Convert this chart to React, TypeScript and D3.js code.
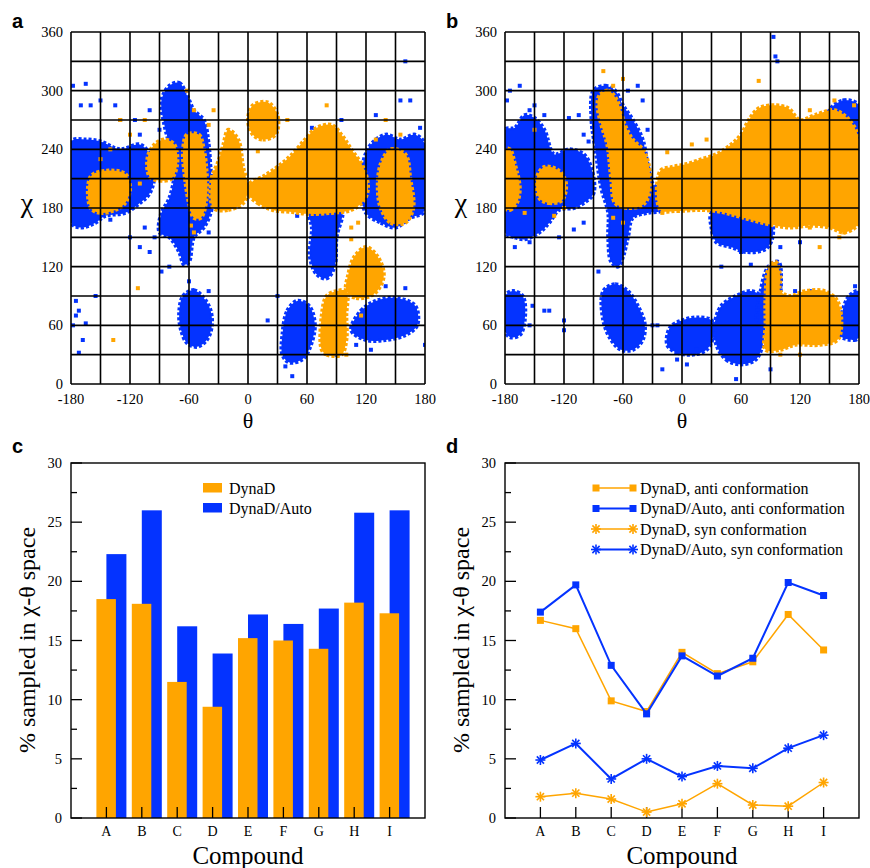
import * as d3 from "d3";

// ---- panel c / d data ----
const compounds = ["A", "B", "C", "D", "E", "F", "G", "H", "I"];
const barDynaD = [18.5, 18.1, 11.5, 9.4, 15.2, 15.0, 14.3, 18.2, 17.3];
const barDynaDAuto = [22.3, 26.0, 16.2, 13.9, 17.2, 16.4, 17.7, 25.8, 26.0];
const antiDynaD = [16.7, 16.0, 9.9, 9.0, 14.0, 12.2, 13.2, 17.2, 14.2];
const antiDynaDAuto = [17.4, 19.7, 12.9, 8.8, 13.7, 12.0, 13.5, 19.9, 18.8];
const synDynaD = [1.8, 2.1, 1.6, 0.5, 1.2, 2.9, 1.1, 1.0, 3.0];
const synDynaDAuto = [4.9, 6.3, 3.3, 5.0, 3.5, 4.4, 4.2, 5.9, 7.0];
const percentTicks = [0, 5, 10, 15, 20, 25, 30];
const thetaTicks = [-180, -120, -60, 0, 60, 120, 180];
const chiTicks = [0, 60, 120, 180, 240, 300, 360];

// ---- panel a: dense regions (outlines in theta/chi) and loose points ----
const blueRegionsA = [
  [[-180,165],[-170,160],[-155,165],[-145,172],[-125,175],[-110,185],[-100,195],[-95,215],[-100,235],[-110,245],[-130,240],[-150,248],[-165,250],[-180,248]],
  [[-80,305],[-70,308],[-62,295],[-55,280],[-45,270],[-40,245],[-38,220],[-35,195],[-38,175],[-45,160],[-55,150],[-60,125],[-65,122],[-70,135],[-80,150],[-90,155],[-88,175],[-80,190],[-75,215],[-80,245],[-85,265],[-88,290]],
  [[-66,90],[-55,96],[-45,88],[-38,75],[-37,58],[-42,45],[-52,38],[-62,42],[-68,55],[-70,72]],
  [[120,175],[135,165],[150,160],[165,170],[178,175],[180,185],[180,245],[170,255],[155,250],[140,255],[125,245],[118,230],[115,200]],
  [[62,178],[95,178],[90,150],[88,120],[80,108],[70,112],[63,130],[65,160]],
  [[35,50],[40,75],[50,85],[62,80],[68,60],[62,35],[55,25],[42,22],[35,30]],
  [[105,55],[115,75],[130,85],[150,88],[170,80],[172,60],[160,50],[140,45],[120,45]],
];
const orangeRegionsA = [
  [[-160,180],[-150,175],[-135,178],[-125,185],[-120,200],[-125,215],[-145,218],[-160,212]],
  [[-100,212],[-90,208],[-78,210],[-72,225],[-75,245],[-85,250],[-95,245],[-102,232]],
  [[-62,255],[-50,255],[-45,240],[-42,215],[-42,190],[-48,170],[-55,170],[-60,185],[-64,210],[-66,240]],
  [[-35,180],[-20,178],[-5,185],[0,200],[-5,222],[-10,250],[-20,260],[-25,245],[-30,228],[-37,210]],
  [[5,255],[15,250],[28,255],[30,275],[20,288],[5,285],[0,270]],
  [[0,195],[10,185],[25,178],[45,176],[60,174],[85,175],[105,178],[118,188],[122,200],[118,220],[105,240],[95,255],[85,265],[70,262],[58,250],[45,235],[30,222],[15,212],[2,205]],
  [[135,180],[145,165],[160,165],[168,180],[165,210],[160,235],[145,240],[135,225],[132,200]],
  [[100,95],[110,88],[128,92],[138,110],[132,130],[120,140],[108,130],[102,112]],
  [[75,35],[80,30],[95,30],[100,45],[100,70],[100,95],[90,95],[80,90],[75,70]],
];
const blueDotsA = [[-178,305],[-165,307],[-170,285],[-160,285],[-150,290],[-135,285],[-130,270],[-115,270],[-100,280],[-110,255],[-90,260],[-120,150],[-95,150],[-100,135],[-110,140],[-80,120],[-40,230],[-40,155],[-175,85],[-172,75],[-175,70],[-165,62],[-168,45],[-155,90],[-172,32],[-178,60],[-40,95],[-60,105],[20,65],[45,8],[90,30],[110,40],[125,35],[160,98],[180,40],[160,330],[155,290],[165,290],[130,275],[95,270],[65,262],[-20,185],[50,172],[30,180],[-105,160],[-88,115],[-120,180],[-140,168],[175,262],[112,95],[140,100],[30,90],[38,18]];
const orangeDotsA = [[-112,98],[-137,45],[-140,240],[-130,270],[-120,255],[-105,270],[-55,155],[-58,162],[-62,300],[-55,280],[-40,265],[-15,240],[80,285],[105,160],[105,148],[112,165],[-35,280],[40,270],[120,90],[115,70],[140,270],[155,255],[160,175],[-20,185],[-28,180],[100,30],[-150,230],[-110,205],[10,238],[130,250]];

// ---- panel b ----
const blueRegionsB = [
  [[-180,155],[-170,150],[-160,148],[-145,155],[-135,165],[-125,178],[-110,180],[-100,185],[-90,195],[-92,220],[-100,235],[-115,240],[-130,235],[-140,260],[-150,272],[-160,275],[-170,262],[-180,260]],
  [[-90,300],[-78,305],[-68,300],[-60,285],[-50,270],[-40,250],[-35,225],[-30,205],[-20,195],[-20,178],[-35,175],[-50,170],[-55,150],[-60,130],[-65,120],[-72,125],[-75,150],[-75,175],[-82,200],[-88,240],[-92,270]],
  [[30,175],[45,180],[75,175],[90,170],[92,150],[85,138],[65,135],[50,140],[35,145],[30,160]],
  [[-180,55],[-175,48],[-165,50],[-160,65],[-162,90],[-172,95],[-180,90]],
  [[-80,95],[-68,102],[-55,95],[-45,80],[-38,62],[-40,45],[-50,35],[-62,35],[-72,45],[-80,65]],
  [[-15,40],[-5,32],[10,30],[25,35],[32,50],[30,65],[15,68],[0,65],[-12,58]],
  [[35,40],[45,25],[60,20],[75,25],[82,40],[85,70],[80,90],[70,95],[55,90],[40,80],[33,60]],
  [[78,60],[95,60],[100,90],[98,125],[88,120],[80,95]],
  [[160,50],[175,45],[180,48],[180,95],[170,90],[162,70]],
  [[150,235],[165,230],[180,235],[180,285],[165,290],[150,280]],
];
const orangeRegionsB = [
  [[-180,180],[-175,178],[-168,185],[-165,200],[-170,225],[-175,240],[-180,240]],
  [[-145,190],[-135,185],[-122,188],[-118,205],[-125,218],[-140,222],[-148,210]],
  [[-84,295],[-75,300],[-66,290],[-58,265],[-50,250],[-40,240],[-34,225],[-33,195],[-40,183],[-55,180],[-68,185],[-72,210],[-76,245],[-82,265],[-86,285]],
  [[-22,178],[-5,177],[20,178],[40,176],[55,172],[70,168],[90,163],[110,160],[130,162],[150,160],[165,155],[180,165],[180,250],[170,270],[155,280],[135,275],[120,270],[108,282],[95,285],[78,282],[68,270],[60,255],[50,245],[35,235],[20,230],[5,225],[-10,222],[-22,218]],
  [[85,35],[100,35],[115,40],[140,40],[158,45],[162,60],[158,85],[145,95],[125,95],[110,90],[100,95],[100,110],[95,125],[88,118],[85,90],[85,60]],
];
const blueDotsB = [[-175,300],[-165,305],[-178,290],[-155,280],[-150,285],[-140,275],[-115,272],[-105,275],[-100,255],[-95,248],[-135,240],[-100,165],[-110,158],[-125,150],[-160,150],[-155,145],[-45,305],[-55,300],[-40,290],[-50,240],[-35,260],[-30,192],[-25,190],[-120,65],[-120,55],[-140,75],[-135,75],[-152,80],[-155,60],[-30,60],[-25,60],[-5,25],[5,20],[15,35],[20,65],[55,5],[90,15],[60,135],[100,140],[100,100],[115,95],[130,95],[110,260],[145,270],[95,335],[97,330],[93,355],[160,245],[165,290],[120,145],[50,210],[20,215],[-170,140],[-85,115],[40,120],[70,122],[176,100],[-20,15]];
const orangeDotsB = [[-150,260],[-130,172],[-120,180],[-15,237],[-80,320],[-60,312],[-70,305],[10,245],[25,250],[78,310],[-40,190],[-20,175],[140,140],[160,150],[165,155],[130,160],[150,165],[100,30],[120,30],[-70,170],[-60,165],[130,280],[-160,175],[175,285],[155,290]];

const ORANGE = "#ffa500";
const BLUE = "#0433ff";
const serif = "'Liberation Serif', 'Times New Roman', serif";
const sans = "'Liberation Sans', Arial, sans-serif";

const Scatter = ({ left, letter, blueRegions, orangeRegions, blueDots, orangeDots }) => {
  const x = d3.scaleLinear().domain([-180, 180]).range([left, left + 354]);
  const y = d3.scaleLinear().domain([0, 360]).range([384, 32]);
  const line = d3.line().x(d => x(d[0])).y(d => y(d[1])).curve(d3.curveCatmullRomClosed.alpha(0.5));
  const grid = d3.range(-180, 181, 30);
  const gridY = d3.range(0, 361, 30);
  const region = (pts, col, i) => (
    <path key={i} d={line(pts)} fill={col} stroke={col} strokeWidth={4} strokeDasharray="3 2" />
  );
  const dot = (p, col, i) => (
    <rect key={i} x={x(p[0]) - 2} y={y(p[1]) - 2} width={4} height={4} fill={col} />
  );
  return (
    <g>
      <clipPath id={"clip" + letter}>
        <rect x={left} y={32} width={354} height={352} />
      </clipPath>
      <g clipPath={`url(#clip${letter})`}>
        {blueRegions.map((r, i) => region(r, BLUE, i))}
        {blueDots.map((p, i) => dot(p, BLUE, i))}
        {orangeRegions.map((r, i) => region(r, ORANGE, i))}
        {orangeDots.map((p, i) => dot(p, ORANGE, i))}
      </g>
      {grid.map(v => (
        <line key={"v" + v} x1={x(v)} x2={x(v)} y1={y(0)} y2={y(360)} stroke="#000" strokeWidth={1.6} />
      ))}
      {gridY.map(v => (
        <line key={"h" + v} x1={x(-180)} x2={x(180)} y1={y(v)} y2={y(v)} stroke="#000" strokeWidth={1.6} />
      ))}
      {thetaTicks.map(v => (
        <text key={"xt" + v} x={x(v)} y={404} textAnchor="middle" fontFamily={serif} fontSize={14.5}>{v}</text>
      ))}
      {chiTicks.map(v => (
        <text key={"yt" + v} x={left - 8} y={y(v) + 5} textAnchor="end" fontFamily={serif} fontSize={14.5}>{v}</text>
      ))}
      <text x={x(0)} y={428} textAnchor="middle" fontFamily={serif} fontSize={22}>θ</text>
      <text x={left - 44} y={212} textAnchor="middle" fontFamily={serif} fontSize={28}>χ</text>
      <text x={left - 59} y={28} fontFamily={sans} fontWeight="bold" fontSize={20}>{letter}</text>
    </g>
  );
};

const PercentFrame = ({ left, letter, x, y }) => (
  <g>
    <rect x={left} y={y(30)} width={354} height={y(0) - y(30)} fill="none" stroke="#000" strokeWidth={1.4} />
    {d3.range(0, 30.1, 2.5).map(v => (
      <line key={"yt" + v} x1={left} x2={left + (v % 5 === 0 ? 11 : 6)} y1={y(v)} y2={y(v)} stroke="#000" strokeWidth={1.3} />
    ))}
    {percentTicks.map(v => (
      <text key={"yl" + v} x={left - 9} y={y(v) + 5} textAnchor="end" fontFamily={serif} fontSize={14.5}>{v}</text>
    ))}
    {compounds.map((c, i) => (
      <g key={c}>
        <line x1={x(i + 1)} x2={x(i + 1)} y1={y(0)} y2={y(0) - 11} stroke="#000" strokeWidth={1.3} />
        <text x={x(i + 1)} y={y(0) + 18} textAnchor="middle" fontFamily={serif} fontSize={14}>{c}</text>
      </g>
    ))}
    <text x={left + 177} y={864} textAnchor="middle" fontFamily={serif} fontSize={25}>Compound</text>
    <text transform={`translate(${left - 36},640) rotate(-90)`} textAnchor="middle" fontFamily={serif} fontSize={24}>% sampled in χ-θ space</text>
    <text x={left - 59} y={453} fontFamily={sans} fontWeight="bold" fontSize={20}>{letter}</text>
  </g>
);

const Star = ({ cx, cy, col }) => (
  <g stroke={col} strokeWidth={1.6}>
    <line x1={cx - 5} x2={cx + 5} y1={cy} y2={cy} />
    <line x1={cx} x2={cx} y1={cy - 5} y2={cy + 5} />
    <line x1={cx - 3.6} x2={cx + 3.6} y1={cy - 3.6} y2={cy + 3.6} />
    <line x1={cx - 3.6} x2={cx + 3.6} y1={cy + 3.6} y2={cy - 3.6} />
  </g>
);

const BarPanel = () => {
  const left = 71;
  const x = d3.scaleLinear().domain([0, 10]).range([left, left + 354]);
  const y = d3.scaleLinear().domain([0, 30]).range([818, 463]);
  return (
    <g>
      {barDynaDAuto.map((v, i) => (
        <rect key={"b" + i} x={x(i + 1)} y={y(v)} width={20} height={y(0) - y(v)} fill={BLUE} />
      ))}
      {barDynaD.map((v, i) => (
        <rect key={"o" + i} x={x(i + 1) - 10} y={y(v)} width={19.5} height={y(0) - y(v)} fill={ORANGE} />
      ))}
      <PercentFrame left={left} letter="c" x={x} y={y} />
      <rect x={203} y={483} width={19} height={9.5} fill={ORANGE} />
      <text x={229} y={494} fontFamily={serif} fontSize={16}>DynaD</text>
      <rect x={203} y={503} width={19} height={9.5} fill={BLUE} />
      <text x={229} y={514} fontFamily={serif} fontSize={16}>DynaD/Auto</text>
    </g>
  );
};

const LinePanel = () => {
  const left = 505;
  const x = d3.scaleLinear().domain([0, 10]).range([left, left + 354]);
  const y = d3.scaleLinear().domain([0, 30]).range([818, 463]);
  const line = d3.line().x((d, i) => x(i + 1)).y(d => y(d));
  const series = [
    { vals: antiDynaD, col: ORANGE, w: 1.5, mark: "sq", label: "DynaD, anti conformation" },
    { vals: antiDynaDAuto, col: BLUE, w: 2, mark: "sq", label: "DynaD/Auto, anti conformation" },
    { vals: synDynaD, col: ORANGE, w: 1.5, mark: "star", label: "DynaD, syn conformation" },
    { vals: synDynaDAuto, col: BLUE, w: 2, mark: "star", label: "DynaD/Auto, syn conformation" },
  ];
  const marker = (s, cx, cy, k) =>
    s.mark === "sq" ? (
      <rect key={k} x={cx - 3.5} y={cy - 3.5} width={7} height={7} fill={s.col} />
    ) : (
      <Star key={k} cx={cx} cy={cy} col={s.col} />
    );
  return (
    <g>
      <PercentFrame left={left} letter="d" x={x} y={y} />
      {series.map((s, si) => (
        <g key={si}>
          <path d={line(s.vals)} fill="none" stroke={s.col} strokeWidth={s.w} />
          {s.vals.map((v, i) => marker(s, x(i + 1), y(v), i))}
        </g>
      ))}
      {series.map((s, si) => {
        const ly = 488 + si * 20.5;
        return (
          <g key={"lg" + si}>
            <line x1={596} x2={633} y1={ly} y2={ly} stroke={s.col} strokeWidth={s.w} />
            {marker(s, 596, ly, "m1")}
            {marker(s, 633, ly, "m2")}
            <text x={640} y={ly + 5.5} fontFamily={serif} fontSize={16}>{s.label}</text>
          </g>
        );
      })}
    </g>
  );
};

export default function App() {
  return (
    <svg width={870} height={868} style={{ position: "absolute", left: 0, top: 0, background: "#fff" }}>
      <rect width={870} height={868} fill="#fff" />
      <Scatter left={71} letter="a" blueRegions={blueRegionsA} orangeRegions={orangeRegionsA} blueDots={blueDotsA} orangeDots={orangeDotsA} />
      <Scatter left={505} letter="b" blueRegions={blueRegionsB} orangeRegions={orangeRegionsB} blueDots={blueDotsB} orangeDots={orangeDotsB} />
      <BarPanel />
      <LinePanel />
    </svg>
  );
}
